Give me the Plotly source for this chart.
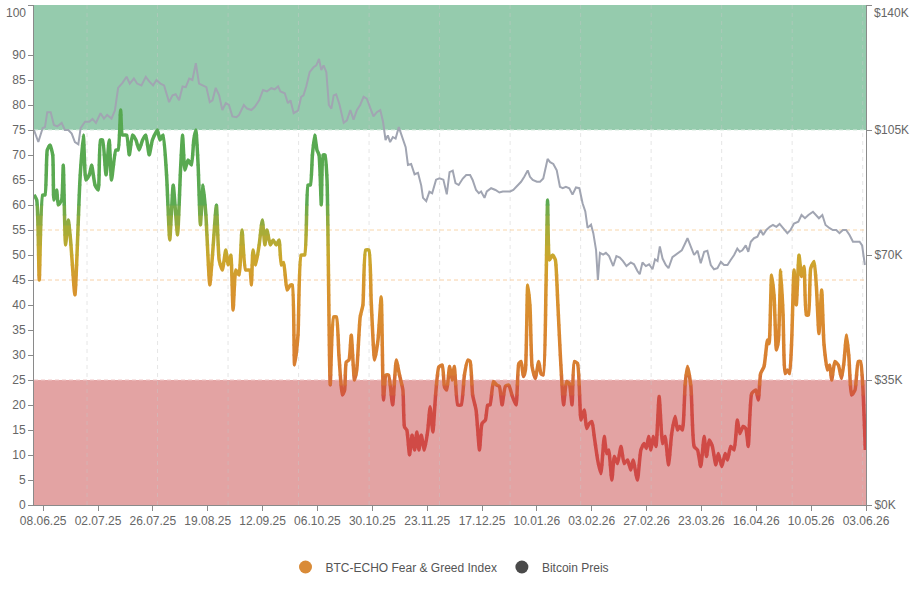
import pandas as pd
import plotly.graph_objects as go

# ---------------- data ----------------
START = "2025-06-04"

fg_day = [0.0, 1.2, 2.3, 3.8, 4.8, 5.8, 7.0, 8.2, 8.7, 9.9, 10.6, 12.1, 12.8, 13.8, 15.0, 16.0, 17.9,
          20.1, 21.6, 22.7, 24.2, 25.2, 26.7, 28.1, 29.1, 30.0, 31.5, 32.9, 33.9, 35.8, 36.8, 37.9, 38.7,
          40.5, 41.7, 43.1, 44.6, 46.0, 47.5, 48.9, 50.4, 51.8, 54.0, 55.1, 56.5, 58.0, 59.4, 60.9, 62.8,
          64.1, 65.0, 66.0, 67.4, 68.9, 69.9, 70.8, 71.8, 72.8, 74.0, 75.2, 76.9, 78.1, 79.8, 81.0, 82.4,
          83.9, 84.9, 86.1, 87.1, 88.3, 89.7, 91.0,
          92.6, 94.4, 95.1, 95.8, 97.0, 98.5, 99.9, 101.0, 101.9, 103.4, 104.6, 106.0, 107.2, 108.2, 109.2,
          110.7, 112.2, 113.0, 114.0, 115.5, 116.9, 118.4, 119.9, 120.9, 121.8, 122.8, 123.8, 124.7, 125.7,
          126.5, 127.3, 128.2, 129.6, 131.1, 132.3, 133.4, 134.9, 135.9, 136.6, 137.8, 138.8, 140.2, 141.2,
          142.7, 143.9, 145.1, 146.5, 147.5, 149.0, 150.5, 151.9, 152.9, 154.0, 155.1, 156.9, 158.5, 159.9,
          161.4, 162.1, 163.1, 164.3, 165.4, 166.5, 167.5, 168.4, 169.4, 170.8, 172.3, 173.3, 174.5, 175.7,
          177.1, 178.6, 179.6, 180.6,
          181.8, 182.9, 183.9, 185.4, 186.9, 188.3, 189.8, 190.8, 191.9, 193.4, 194.9, 196.0, 197.5, 198.5,
          199.5, 201.0, 202.4, 203.6, 204.8, 206.2, 207.7, 209.1, 210.9, 212.1, 213.1, 214.1, 215.0, 216.0,
          217.0, 217.9, 219.3, 220.8, 221.8, 222.8, 224.0, 224.7, 225.5, 226.9, 228.1, 229.1, 230.3, 231.7,
          233.0, 234.2, 235.4, 236.4, 237.8, 239.3, 240.7, 241.8, 242.9, 244.1, 245.1, 246.6, 248.0, 249.5,
          250.5, 251.4, 252.8, 253.9, 255.3, 256.8, 258.2, 259.7, 261.1, 262.1, 264.0, 265.5, 266.9, 267.9,
          268.9, 269.9, 270.9, 272.1,
          273.5, 275.0, 276.1, 277.6, 279.0, 280.5, 281.5, 282.5, 283.7, 284.9, 285.9, 287.4, 288.8, 290.3,
          291.7, 293.2, 294.2, 295.4, 296.8, 298.3, 299.4, 300.9, 302.4, 303.4, 304.8, 306.3, 307.7, 308.8,
          310.2, 311.4, 312.5, 314.0, 315.8, 316.9, 317.9, 319.4, 320.9, 321.6, 322.7, 323.8, 324.8, 325.7,
          326.7, 327.7, 328.6, 329.6, 330.6, 331.5, 332.5, 333.5, 334.7, 335.8, 336.9, 337.9, 338.8, 339.8,
          341.3, 342.3, 343.4, 344.6, 345.6, 347.1, 348.1, 349.0, 350.4, 351.9, 353.3, 354.3, 355.5, 356.5,
          357.7, 359.2, 360.6, 361.6, 362.6, 363.7]

fg_val = [62, 61, 45, 62, 62, 71, 72, 70, 61, 63, 60, 61, 68, 52, 57, 53, 42,
          65, 74, 65, 66, 68, 64, 63, 73, 73, 66, 73, 65, 71, 71, 79, 74,
          74, 70, 74, 73, 71, 73, 74, 70, 73, 75, 73, 74, 66, 53, 64, 54,
          67, 74, 67, 69, 68, 73, 75, 68, 56, 64, 58, 44, 50, 60, 49, 47,
          51, 48, 50, 39, 47, 46, 55,
          47, 47, 44, 51, 48, 52, 57, 52, 55, 52, 53, 52, 53, 48, 48.5,
          43, 44, 44, 28, 34, 50, 50, 64, 64, 70, 74, 71, 70, 60,
          70, 70, 65, 24, 37.6, 37.6, 30, 22, 23, 28.6, 29, 34, 25, 27,
          37.6, 40, 51, 51, 41, 29, 33, 41.6, 21, 26, 26, 20, 29, 26,
          23, 15.6, 15, 10, 14, 11, 14.6, 11, 14, 11, 15, 19.6, 14.6, 22,
          27.6, 28, 23.6, 23,
          27.7, 25, 27.7, 20, 20, 26, 29, 28.7, 22, 19, 11, 16.3, 17, 20,
          20, 24.7, 24, 23.7, 20, 23.7, 24, 22, 20, 28.3, 28.7, 25.7, 27, 44,
          39.7, 27.7, 25.3, 28.7, 26.3, 26, 43.7, 61, 49, 50, 49, 41, 29.7, 20,
          24.7, 24.3, 20, 28.7, 28.3, 17, 19, 15.3, 16.3, 16.7, 13.7, 9, 6.3, 13.7,
          10.3, 11, 5, 9.7, 8.3, 11.7, 8.3, 9, 7, 9, 5, 11, 12.3, 11.3,
          13.7, 11, 13.7, 11.7,
          21.7, 12.3, 13.7, 8, 14.3, 17.7, 15, 15.7, 15, 24.3, 27.7, 23.7, 11.7, 11,
          7.7, 13.7, 9.7, 13, 11.7, 8, 10.3, 7.7, 10.3, 9, 11.7, 11, 17, 14.3,
          15.7, 15.3, 11.7, 22.3, 23, 21, 26.3, 27.7, 33, 32.3, 46, 41.7, 31, 33,
          47, 38.3, 26.3, 27, 26.3, 33, 47, 40, 50, 45.7, 47.7, 38, 38, 47.3,
          48.7, 43.7, 34.3, 43, 32.3, 27, 28, 25, 28.7, 28, 25.3, 28.3, 34, 29.7,
          22, 23, 28.7, 28.7, 23.7, 11]

btc_day = [0.0, 1.9, 3.8, 4.8, 5.8, 7.3, 8.7, 10.2, 12.1, 13.5, 15.0, 16.5, 17.9, 19.4, 20.4, 22.3,
           24.2, 25.6, 27.1, 29.1, 30.6, 32.0, 33.9, 35.4, 36.8, 38.7, 40.5, 41.9, 43.7, 45.1, 47.0,
           48.9, 50.4, 52.1, 53.6, 55.3, 56.9, 59.1, 60.6, 62.0, 63.5, 65.0, 66.4, 67.9, 69.3, 70.8,
           72.2, 74.0, 75.4, 76.9, 78.1, 79.5, 81.0, 82.4, 83.9, 85.3, 86.8, 88.6, 89.7,
           91.8, 93.2, 95.1, 96.6, 98.5, 100.2, 101.9, 103.8, 105.3, 106.8, 107.8, 109.7, 111.1, 112.2,
           113.6, 115.5, 116.9, 117.9, 119.1, 120.6, 122.3, 123.5, 124.7, 125.7, 126.7, 127.9, 129.0,
           130.1, 131.1, 132.2, 133.7, 135.5, 136.9, 138.4, 139.8, 141.3, 142.7, 144.2, 145.6, 147.1,
           148.5, 150.0, 151.5, 152.7, 153.8, 154.8, 155.8, 157.0, 158.2, 159.6, 161.1, 162.6, 163.6,
           165.0, 166.5, 168.0, 169.4, 170.2, 171.6, 173.0, 174.2, 175.9, 177.4, 179.1, 180.6, 181.8,
           183.2,
           184.4, 185.8, 187.6, 189.1, 190.8, 191.9, 193.4, 194.6, 195.6, 197.1, 198.1, 200.0, 201.9,
           203.6, 205.1, 206.8, 208.3, 209.7, 211.6, 213.1, 214.5, 216.0, 217.0, 218.2, 220.0, 221.4,
           222.8, 224.0, 224.7, 225.8, 227.2, 228.7, 230.1, 231.3, 232.7, 234.2, 235.6, 237.1, 238.6,
           240.0, 241.2, 242.2, 243.7, 244.7, 245.9, 246.7, 247.6, 249.0, 250.2, 251.6, 253.4, 254.8,
           256.3, 257.7, 259.2, 261.1, 262.5, 264.0, 265.0, 266.2, 267.7, 269.1, 270.6, 271.7, 272.8,
           273.8,
           275.0, 276.4, 277.6, 279.3, 281.5, 283.4, 284.9, 285.9, 287.4, 288.8, 290.3, 291.7, 293.2,
           294.6, 296.1, 297.5, 299.0, 300.5, 301.9, 303.4, 304.8, 306.3, 307.7, 308.8, 309.9, 311.4,
           312.5, 313.6, 315.0, 316.5, 317.9, 319.0, 320.4, 321.9, 323.3, 324.8, 326.2, 327.7, 329.6,
           331.0, 332.5, 334.4, 335.8, 337.3, 338.8, 340.8, 342.3, 343.4, 344.9, 346.3, 348.1, 349.5,
           351.0, 352.4, 353.9, 355.3, 356.8, 358.3, 359.7, 361.2, 362.3, 363.5]

btc_val = [105000, 101640, 105560, 105800, 110000, 110000, 106400, 106000, 107000, 105000, 105000, 104000,
           101640, 101000, 105500, 107300, 107300, 108100, 107000, 109700, 108200, 109200, 108200, 110500,
           116800, 118200, 119900, 118000, 119400, 118000, 117500, 119900, 118600, 117500, 119000, 118000,
           117500, 112800, 114700, 115000, 113300, 117200, 117000, 119400, 119000, 123700, 118000, 117500,
           117000, 112800, 113300, 116800, 114700, 110600, 112500, 112000, 108800, 108600, 109200,
           112000, 111000, 110600, 111500, 113300, 116200, 115800, 116700, 116400, 117200, 115800, 115300,
           112500, 113300, 109700, 110400, 114300, 114700, 117200, 121200, 122600, 123100, 124900, 121800,
           123100, 121200, 112000, 111000, 114700, 115000, 112000, 107000, 107700, 110600, 107900, 110600,
           112000, 114300, 113800, 111000, 108800, 110000, 110600, 107300, 102200, 103500, 101600, 103000,
           102600, 105800, 103000, 100200, 95200, 95500, 92600, 93000, 89500, 86000, 85100, 87700, 87300,
           91100, 91500, 91100, 87000, 93200, 93600,
           90100, 89600, 91400, 92400, 92400, 91000, 88200, 87300, 87800, 86000, 87800, 88700, 88200,
           87500, 87800, 87800, 87800, 88200, 89600, 90500, 91900, 93700, 91900, 91000, 90500, 90500,
           91400, 95100, 96900, 96000, 95500, 93700, 89100, 88700, 89100, 88700, 86900, 88900, 88700,
           84500, 82200, 77600, 78500, 76100, 71400, 63000, 70600, 70100, 70600, 69700, 66900, 69700,
           69300, 68300, 66900, 67900, 67400, 65500, 64600, 67900, 66900, 67400, 66000, 68800, 68300,
           72400,
           69000, 67200, 66300, 69400, 70400, 71300, 73300, 74700, 72300, 70000, 71200, 67700, 70900,
           71200, 67200, 66000, 66300, 68100, 67200, 67200, 68600, 70000, 71800, 70900, 71300, 72700,
           70900, 73700, 74700, 75100, 77000, 75600, 77000, 77900, 78400, 77900, 78700, 77500, 76100,
           77000, 78800, 79300, 81200, 80300, 81200, 82100, 81200, 80300, 81200, 78400, 77500, 77000,
           77000, 76100, 77000, 77000, 75600, 73700, 73700, 73700, 72700, 67200]

x_tick_start = "2025-06-08"
x_tick_step_days = 24
x_tick_count = 16

price_tickvals = [0, 35000, 70000, 105000, 140000]
price_ticktext = ["$0K", "$35K", "$70K", "$105K", "$140K"]
fg_tickvals = [0, 5, 10, 15, 20, 25, 30, 35, 40, 45, 50, 55, 60, 65, 70, 75, 80, 85, 90, 100]
fg_ticktext = [str(v) for v in fg_tickvals]

# ---------------- styling helpers ----------------
start = pd.Timestamp(START)
fg_x = start + pd.to_timedelta(fg_day, unit="D")
btc_x = start + pd.to_timedelta(btc_day, unit="D")
x_end = start + pd.Timedelta(days=364)
xticks = pd.date_range(x_tick_start, periods=x_tick_count, freq=f"{x_tick_step_days}D")

cstops = [(0, (207, 72, 72)), (21.5, (208, 76, 68)), (26, (215, 122, 50)), (35, (218, 136, 48)),
          (44, (215, 150, 46)), (50, (203, 168, 45)), (55, (168, 172, 55)), (61, (92, 170, 82)),
          (100, (78, 166, 78))]


def col(v):
    for (a, ca), (b, cb) in zip(cstops[:-1], cstops[1:]):
        if a <= v <= b:
            t = (v - a) / (b - a)
            c = [round(ca[i] + (cb[i] - ca[i]) * t) for i in range(3)]
            return f"rgb({c[0]},{c[1]},{c[2]})"
    return "rgb(78,166,78)"


FONT = "Liberation Sans, Arial, sans-serif"
TICKC = "#666666"
AXC = "#8a8a8a"

fig = go.Figure()

# Bitcoin price (right axis)
fig.add_trace(go.Scatter(x=btc_x, y=btc_val, yaxis="y2", mode="lines",
                         line=dict(color="#a1a5b2", width=2), showlegend=False, hoverinfo="skip"))

layout_axes = {}
BAND = 2
NB = 100 // BAND
for k in range(NB):
    lo, hi = k * BAND, (k + 1) * BAND
    pad = 0.12
    rlo = max(0, lo - pad)
    rhi = min(100, hi + pad)
    name = f"yaxis{k + 3}"
    layout_axes[name] = dict(domain=[rlo / 100, rhi / 100], range=[rlo, rhi], visible=False,
                             anchor="x", fixedrange=True, showgrid=False, zeroline=False,
                             automargin=False)
    fig.add_trace(go.Scatter(x=fg_x, y=fg_val, yaxis=f"y{k + 3}", mode="lines",
                             line=dict(color=col((lo + hi) / 2), width=3.5, shape="spline", smoothing=0.5),
                             showlegend=False, hoverinfo="skip"))

# legend entries
fig.add_trace(go.Scatter(x=[None], y=[None], mode="markers", name="BTC-ECHO Fear & Greed Index",
                         marker=dict(color="#d98b38", size=13, symbol="circle")))
fig.add_trace(go.Scatter(x=[None], y=[None], mode="markers", name="Bitcoin Preis",
                         marker=dict(color="#4a4a4a", size=13, symbol="circle")))

shapes = [
    dict(type="rect", xref="paper", yref="y", x0=0, x1=1, y0=75, y1=100,
         fillcolor="#95cbad", line=dict(width=0), layer="below"),
    dict(type="rect", xref="paper", yref="y", x0=0, x1=1, y0=0, y1=25,
         fillcolor="#e3a3a3", line=dict(width=0), layer="below"),
]
# vertical dashed grid
for k in range(12):
    gx = start + pd.Timedelta(days=23.2 + 30.85 * k)
    shapes.append(dict(type="line", xref="x", yref="paper", x0=gx, x1=gx, y0=0, y1=1,
                       line=dict(color="rgba(200,200,200,0.45)", width=1, dash="4px,4px"), layer="below"))
for yv, c in [(75, "#d9ece0"), (25, "#f1c6c6"), (55, "#f8d6ab"), (45, "#f8d0a6")]:
    shapes.append(dict(type="line", xref="paper", yref="y", x0=0, x1=1, y0=yv, y1=yv,
                       line=dict(color=c, width=1, dash="4px,3px"), layer="below"))

# the topmost tick labels sit just below their ticks (as in the reference) -> drawn as annotations
left_tt = fg_ticktext[:-1] + [""]
right_tt = price_ticktext[:-1] + [""]
annotations = [
    dict(text=fg_ticktext[-1], xref="paper", yref="y", x=0, y=fg_tickvals[-1], xanchor="right",
         yanchor="top", xshift=-6, yshift=1, showarrow=False,
         font=dict(family=FONT, size=12, color=TICKC)),
    dict(text=price_ticktext[-1], xref="paper", yref="y2", x=1, y=price_tickvals[-1], xanchor="left",
         yanchor="top", xshift=6, yshift=1, showarrow=False,
         font=dict(family=FONT, size=12, color=TICKC)),
]

fig.update_layout(
    width=920, height=589,
    margin=dict(l=34, r=54, t=5, b=84, autoexpand=False),
    paper_bgcolor="white", plot_bgcolor="rgba(0,0,0,0)",
    font=dict(family=FONT, size=12, color=TICKC),
    showlegend=True,
    legend=dict(orientation="h", x=0.5, xanchor="center", y=-0.124, yanchor="middle",
                font=dict(family=FONT, size=12, color="#555555"), bgcolor="rgba(0,0,0,0)",
                itemclick=False, itemdoubleclick=False),
    xaxis=dict(type="date", range=[start, x_end], anchor="y", showgrid=False, zeroline=False,
               tickvals=list(xticks), tickformat="%d.%m.%y", ticks="outside", ticklen=5,
               tickcolor=AXC, showline=True, linecolor=AXC, linewidth=1, ticklabeloverflow="allow",
               automargin=False,
               tickfont=dict(family=FONT, size=12, color=TICKC), fixedrange=True),
    yaxis=dict(range=[0, 100], domain=[0, 1], tickvals=fg_tickvals, ticktext=left_tt,
               ticks="outside", ticklen=5,
               tickcolor=AXC, showline=True, linecolor=AXC, linewidth=1, showgrid=False,
               ticklabeloverflow="allow", automargin=False,
               zeroline=False, tickfont=dict(family=FONT, size=12, color=TICKC), fixedrange=True),
    yaxis2=dict(range=[0, 140000], overlaying="y", side="right", anchor="x",
                tickvals=price_tickvals, ticktext=right_tt, ticks="outside", ticklen=5,
                tickcolor=AXC, showline=True, linecolor=AXC, linewidth=1, showgrid=False,
                ticklabeloverflow="allow", automargin=False,
                zeroline=False, tickfont=dict(family=FONT, size=12, color=TICKC), fixedrange=True),
    shapes=shapes,
    annotations=annotations,
    **layout_axes,
)

fig.write_html("out.html")
